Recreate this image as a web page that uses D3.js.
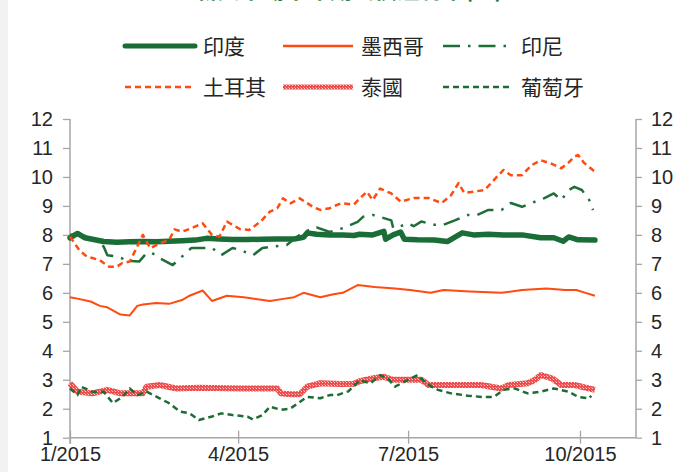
<!DOCTYPE html>
<html><head><meta charset="utf-8">
<script src="https://cdn.jsdelivr.net/npm/d3@7/dist/d3.min.js"></script>
<style>body{margin:0;background:#fff}svg{display:block}</style>
</head><body><svg id="c" width="686" height="472"></svg>
<script>
const title = "新興市場十年期公債殖利率(%)";
const seriesNames = ["印度","墨西哥","印尼","土耳其","泰國","葡萄牙"];
const xTickLabels = ["1/2015","4/2015","7/2015","10/2015"];
const yTicks = [1,2,3,4,5,6,7,8,9,10,11,12];

const india = [["01-01",7.9],["01-05",8.05],["01-09",7.9],["01-13",7.85],["01-19",7.77],["01-26",7.75],["02-02",7.76],["02-09",7.77],["02-16",7.76],["02-23",7.78],["03-02",7.8],["03-09",7.82],["03-15",7.88],["03-22",7.86],["03-29",7.84],["04-06",7.84],["04-14",7.85],["04-22",7.86],["05-01",7.86],["05-06",7.92],["05-08",8.07],["05-13",8.02],["05-20",8.0],["05-27",8.0],["06-02",7.98],["06-05",8.02],["06-12",8.0],["06-18",8.12],["06-19",7.85],["06-23",8.0],["06-27",8.1],["06-29",7.85],["07-06",7.83],["07-15",7.82],["07-22",7.77],["07-30",8.07],["08-05",8.0],["08-13",8.02],["08-21",8.0],["08-31",8.0],["09-10",7.9],["09-17",7.9],["09-22",7.78],["09-25",7.93],["09-30",7.83],["10-09",7.82]];
const mexico = [["01-01",5.85],["01-05",5.8],["01-12",5.7],["01-17",5.55],["01-21",5.5],["01-28",5.25],["02-02",5.22],["02-06",5.55],["02-09",5.6],["02-16",5.65],["02-23",5.62],["03-02",5.75],["03-06",5.9],["03-13",6.08],["03-18",5.72],["03-26",5.9],["04-04",5.85],["04-18",5.72],["04-26",5.8],["05-01",5.85],["05-06",6.0],["05-15",5.85],["05-22",5.95],["05-27",6.0],["06-04",6.27],["06-13",6.2],["06-24",6.15],["07-02",6.1],["07-13",6.0],["07-20",6.1],["08-03",6.05],["08-20",6.0],["08-31",6.1],["09-13",6.15],["09-23",6.1],["09-29",6.1],["10-04",6.0],["10-09",5.9]];
const indonesia = [["01-01",8.0],["01-05",8.05],["01-12",7.9],["01-19",7.6],["01-21",7.3],["01-26",7.25],["02-02",7.1],["02-07",7.08],["02-11",7.37],["02-14",7.37],["02-18",7.2],["02-25",6.96],["03-04",7.37],["03-07",7.55],["03-13",7.55],["03-18",7.55],["03-23",7.3],["03-29",7.55],["04-02",7.48],["04-09",7.3],["04-14",7.55],["04-20",7.6],["04-27",7.65],["05-06",8.1],["05-13",8.26],["05-20",8.1],["05-27",8.23],["06-04",8.45],["06-07",8.63],["06-12",8.69],["06-18",8.58],["06-22",8.5],["06-23",8.24],["06-27",8.3],["07-01",8.4],["07-04",8.3],["07-08",8.46],["07-15",8.35],["07-20",8.35],["07-26",8.5],["08-02",8.69],["08-07",8.69],["08-13",8.86],["08-20",8.86],["08-25",9.1],["08-31",8.97],["09-05",9.1],["09-12",9.27],["09-17",9.43],["09-21",9.2],["09-25",9.55],["09-28",9.66],["10-02",9.55],["10-06",9.2],["10-08",8.86]];
const turkey = [["01-01",7.94],["01-06",7.47],["01-10",7.25],["01-13",7.2],["01-17",7.13],["01-19",7.03],["01-22",6.9],["01-26",6.9],["01-29",7.03],["02-02",7.08],["02-06",7.6],["02-09",8.0],["02-13",7.54],["02-18",7.71],["02-23",7.82],["02-26",8.19],["03-02",8.11],["03-07",8.23],["03-13",8.4],["03-18",8.0],["03-22",7.94],["03-26",8.46],["04-02",8.2],["04-07",8.17],["04-13",8.46],["04-18",8.8],["04-22",8.92],["04-25",9.26],["04-29",9.09],["05-04",9.26],["05-11",8.97],["05-15",8.86],["05-20",8.92],["05-26",9.09],["06-02",9.05],["06-05",9.25],["06-09",9.49],["06-12",9.2],["06-16",9.6],["06-22",9.43],["06-27",9.15],["07-04",9.27],["07-12",9.27],["07-19",9.1],["07-24",9.37],["07-28",9.79],["07-31",9.45],["08-05",9.49],["08-11",9.55],["08-16",9.9],["08-21",10.24],["08-25",10.06],["08-31",10.06],["09-05",10.4],["09-10",10.58],["09-16",10.45],["09-21",10.3],["09-25",10.5],["09-28",10.7],["09-30",10.76],["10-03",10.5],["10-09",10.18]];
const thailand = [["01-01",2.88],["01-05",2.59],["01-13",2.53],["01-21",2.65],["01-28",2.53],["02-09",2.53],["02-11",2.76],["02-18",2.82],["02-27",2.7],["03-11",2.72],["04-02",2.7],["04-22",2.7],["04-24",2.53],["04-29",2.5],["05-04",2.5],["05-08",2.76],["05-15",2.88],["05-26",2.85],["06-02",2.86],["06-05",2.95],["06-12",3.05],["06-18",3.1],["06-23",3.0],["07-08",3.0],["07-12",2.82],["08-09",2.82],["08-20",2.7],["08-24",2.82],["09-03",2.88],["09-07",3.0],["09-10",3.16],["09-16",3.05],["09-21",2.82],["09-28",2.82],["10-02",2.76],["10-09",2.65]];
const portugal = [["01-01",2.7],["01-05",2.47],["01-07",2.76],["01-13",2.59],["01-19",2.59],["01-24",2.19],["01-29",2.41],["02-02",2.7],["02-06",2.47],["02-11",2.59],["02-18",2.36],["02-23",2.19],["03-01",1.9],["03-06",1.84],["03-11",1.61],["03-18",1.73],["03-23",1.84],["03-29",1.78],["04-06",1.73],["04-09",1.63],["04-14",1.78],["04-18",2.07],["04-24",1.96],["04-29",2.01],["05-03",2.19],["05-08",2.41],["05-15",2.36],["05-20",2.47],["05-24",2.47],["05-30",2.6],["06-05",2.98],["06-11",2.88],["06-16",3.16],["06-20",3.05],["06-24",2.76],["07-01",3.0],["07-06",3.16],["07-12",2.82],["07-17",2.65],["07-24",2.53],["08-02",2.45],["08-11",2.4],["08-16",2.41],["08-21",2.65],["08-27",2.7],["09-03",2.53],["09-10",2.59],["09-17",2.7],["09-25",2.59],["09-30",2.41],["10-06",2.36],["10-07",2.45]];

const parse = d3.timeParse("%Y-%m-%d");
const toPts = arr => arr.map(([d,v]) => ({date: parse("2015-"+d), v}));

const svg = d3.select("#c");
const W = 686, H = 472;
const x0 = 70, x1 = 636, yTop = 119, yBot = 437.7;
const x = d3.scaleTime().domain([parse("2015-01-01"), parse("2015-10-31")]).range([x0, x1]);
const y = d3.scaleLinear().domain([1, 12]).range([yBot, yTop]);

svg.append("rect").attr("x",0).attr("y",0).attr("width",8).attr("height",H).attr("fill","#f2f2f2");

const defs = svg.append("defs");
const pat = defs.append("pattern").attr("id","thai").attr("patternUnits","userSpaceOnUse").attr("width",3).attr("height",3);
pat.append("rect").attr("width",3).attr("height",3).attr("fill","#ee4d4d");
pat.append("rect").attr("x",1).attr("y",1).attr("width",1).attr("height",1).attr("fill","#ffd0d0");
pat.append("rect").attr("x",0).attr("y",0).attr("width",1).attr("height",1).attr("fill","#ff9a9a");

// title (cut off at top)
svg.append("text").attr("x",195).attr("y",-2).attr("textLength",308).attr("lengthAdjust","spacingAndGlyphs")
  .attr("font-family","'Noto Sans CJK TC','Noto Sans CJK SC',sans-serif").attr("font-size",21).attr("font-weight","bold")
  .attr("fill","#1e7b45").text(title);

const axisColor = "#a6a6a6";
const fontNum = "'Liberation Sans', Arial, sans-serif";

// axes
const yL = d3.axisLeft(y).tickValues(yTicks).tickSize(7).tickPadding(10).tickFormat(d3.format("d"));
const gL = svg.append("g").attr("transform",`translate(${x0},0)`).call(yL);
const yR = d3.axisRight(y).tickValues(yTicks).tickSize(6).tickPadding(9).tickFormat(d3.format("d"));
const gR = svg.append("g").attr("transform",`translate(${x1},0)`).call(yR);
const xTickDates = ["2015-01-01","2015-04-01","2015-07-01","2015-10-01"].map(parse);
const xA = d3.axisBottom(x).tickValues(xTickDates).tickSize(6).tickPadding(3).tickFormat((d,i)=>xTickLabels[i]);
const gX = svg.append("g").attr("transform",`translate(0,${yBot})`).call(xA);
[gL,gR,gX].forEach(g=>{
  g.select(".domain").remove();
  g.selectAll(".tick line").attr("stroke",axisColor).attr("stroke-width",1.3);
  g.selectAll(".tick text").attr("font-family",fontNum).attr("font-size",20).attr("fill","#262626");
});
// ticks crossing x axis
gX.selectAll(".tick line").attr("y1",-7).attr("y2",6);
gX.selectAll(".tick text").attr("dy","0.71em");
// axis lines
svg.append("line").attr("x1",x0).attr("x2",x0).attr("y1",yTop).attr("y2",yBot+6).attr("stroke",axisColor).attr("stroke-width",1.5);
svg.append("line").attr("x1",x1).attr("x2",x1).attr("y1",yTop).attr("y2",yBot).attr("stroke",axisColor).attr("stroke-width",1.5);
svg.append("line").attr("x1",x0).attr("x2",x1).attr("y1",yBot).attr("y2",yBot).attr("stroke",axisColor).attr("stroke-width",1.5);

const line = d3.line().x(d=>x(d.date)).y(d=>y(d.v)).curve(d3.curveLinear);

const styles = [
  {data: india, stroke:"#1b6d37", w:5.5, dash:null, cap:"round"},
  {data: mexico, stroke:"#ff4a10", w:2, dash:null, cap:"butt"},
  {data: indonesia, stroke:"#1f6e38", w:2.5, dash:"17,8,2.5,8", cap:"butt"},
  {data: turkey, stroke:"#ff4a10", w:2.5, dash:"6,4", cap:"butt"},
  {data: thailand, stroke:"url(#thai)", w:6, dash:null, cap:"butt"},
  {data: portugal, stroke:"#1f6b35", w:2.5, dash:"6,4", cap:"butt"}
];
styles.forEach(s=>{
  svg.append("path").datum(toPts(s.data)).attr("d",line).attr("fill","none")
    .attr("stroke",s.stroke).attr("stroke-width",s.w).attr("stroke-linejoin","round")
    .attr("stroke-linecap",s.cap).attr("stroke-dasharray",s.dash);
});

// legend
const legX = [125,283,443], legY = [46,87];
styles.forEach((s,i)=>{
  const cx = legX[i%3], cy = legY[Math.floor(i/3)];
  svg.append("line").attr("x1",cx).attr("x2",cx+70).attr("y1",cy).attr("y2",cy)
    .attr("stroke",s.stroke).attr("stroke-width",i===0?5:(i===4?5:2.5))
    .attr("stroke-linecap",s.cap).attr("stroke-dasharray",s.dash);
  svg.append("text").attr("x",cx+78).attr("y",cy).attr("dy","0.36em")
    .attr("font-family","'Noto Sans CJK TC','Noto Sans CJK SC',sans-serif").attr("font-size",21)
    .attr("fill","#262626").text(seriesNames[i]);
});
</script></body></html>
